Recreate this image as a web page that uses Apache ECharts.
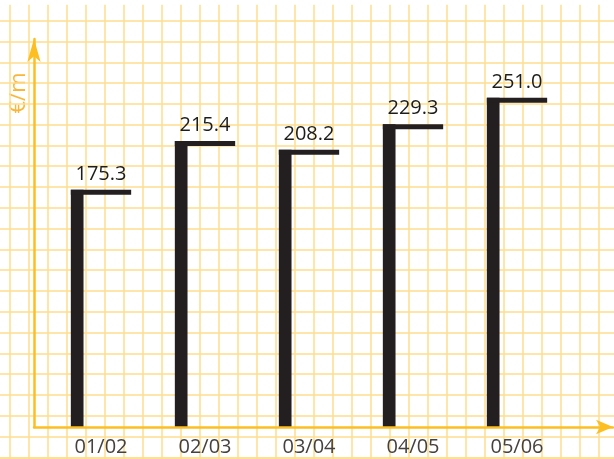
<!DOCTYPE html>
<html>
<head>
<meta charset="utf-8">
<script src="https://cdn.jsdelivr.net/npm/echarts@6/dist/echarts.min.js"></script>
<style>
  html, body { margin: 0; padding: 0; background: #ffffff; }
  #chart { width: 614px; height: 459px; }
</style>
</head>
<body>
<div id="chart"></div>
<script>
// Season labels and price per metre
const categories = ['01/02', '02/03', '03/04', '04/05', '05/06'];
const values = [175.3, 215.4, 208.2, 229.3, 251.0];
const unitLabel = '€/m';

// Value range of the plot (baseline sits slightly below zero)
const Y_MIN = -20;
const Y_MAX = 290;

const PAPER = '#FEDC8C';
const AXIS = '#FDBE22';
const BAR = '#231F20';
const FONT = '"Open Sans", "Noto Sans", sans-serif';

const chart = echarts.init(document.getElementById('chart'), null, { renderer: 'canvas' });

const option = {
  backgroundColor: '#ffffff',
  animation: false,
  grid: [
    // 0: vertical rules of the squared paper
    { left: 9.7, right: 15.3, top: 4.7, bottom: 0 },
    // 1: horizontal rules of the squared paper
    { left: 0, right: 0, top: 20.7, bottom: 1.7 },
    // 2: plot area for the bars
    { left: 49, right: 45, top: 50.5, bottom: 32 },
    // 3: arrowed axes
    { left: 34, right: 1, top: 39, bottom: 32 }
  ],
  xAxis: [
    {
      gridIndex: 0, type: 'value', min: 0, max: 31, interval: 1,
      axisLine: { show: false }, axisTick: { show: false }, axisLabel: { show: false },
      splitLine: { show: true, lineStyle: { color: PAPER, width: 1.5 } }
    },
    {
      gridIndex: 1, type: 'value', position: 'top', offset: 16, min: 0, max: 1,
      axisLine: { show: true, lineStyle: { color: PAPER, width: 1.5 } },
      axisTick: { show: false }, axisLabel: { show: false }, splitLine: { show: false }
    },
    {
      gridIndex: 2, type: 'category', data: categories, boundaryGap: true,
      axisLine: { show: false }, axisTick: { show: false },
      axisLabel: { show: true, color: '#45413F', fontFamily: FONT, fontSize: 20, margin: 10 },
      splitLine: { show: false }
    },
    {
      gridIndex: 3, type: 'value', min: 0, max: 1, z: 5,
      axisLine: {
        show: true, symbol: ['none', 'arrow'], symbolSize: [11, 17],
        lineStyle: { color: AXIS, width: 2.5 }
      },
      axisTick: { show: false }, axisLabel: { show: false }, splitLine: { show: false }
    }
  ],
  yAxis: [
    {
      gridIndex: 0, type: 'value', min: 0, max: 1,
      axisLine: { show: false }, axisTick: { show: false }, axisLabel: { show: false },
      splitLine: { show: false }
    },
    {
      gridIndex: 1, type: 'value', min: 0, max: 21, interval: 1,
      axisLine: { show: false }, axisTick: { show: false }, axisLabel: { show: false },
      splitLine: { show: true, lineStyle: { color: PAPER, width: 1.5 } }
    },
    {
      gridIndex: 2, type: 'value', min: Y_MIN, max: Y_MAX,
      axisLine: { show: false }, axisTick: { show: false }, axisLabel: { show: false },
      splitLine: { show: false }
    },
    {
      gridIndex: 3, type: 'value', min: 0, max: 1, z: 5,
      axisLine: {
        show: true, symbol: ['none', 'arrow'], symbolSize: [10, 23],
        lineStyle: { color: AXIS, width: 2.5 }
      },
      axisTick: { show: false }, axisLabel: { show: false }, splitLine: { show: false }
    }
  ],
  graphic: [
    {
      type: 'text', x: 18.5, y: 93, rotation: Math.PI / 2,
      style: {
        text: unitLabel, fill: '#FBB638', font: '22px ' + FONT,
        align: 'center', verticalAlign: 'middle'
      }
    }
  ],
  series: [
    {
      type: 'custom',
      xAxisIndex: 2, yAxisIndex: 2,
      z: 3,
      encode: { x: 0, y: 1 },
      data: values.map((v, i) => [i, v]),
      renderItem(params, api) {
        const v = api.value(1);
        const top = api.coord([api.value(0), v]);
        const base = api.coord([api.value(0), Y_MIN]);
        const band = api.size([1, 0])[0];
        const half = band * 0.29;
        const stem = band * 0.122;
        const left = top[0] - half;
        return {
          type: 'group',
          children: [
            { type: 'rect', shape: { x: left, y: top[1], width: stem, height: base[1] - top[1] }, style: { fill: BAR } },
            { type: 'rect', shape: { x: left, y: top[1], width: half * 2, height: 5 }, style: { fill: BAR } },
            {
              type: 'text',
              style: {
                text: v.toFixed(1), x: top[0], y: top[1] - 6,
                align: 'center', verticalAlign: 'bottom',
                font: '20px ' + FONT, fill: '#1D1D1B'
              }
            }
          ]
        };
      }
    }
  ]
};

chart.setOption(option);
</script>
</body>
</html>
